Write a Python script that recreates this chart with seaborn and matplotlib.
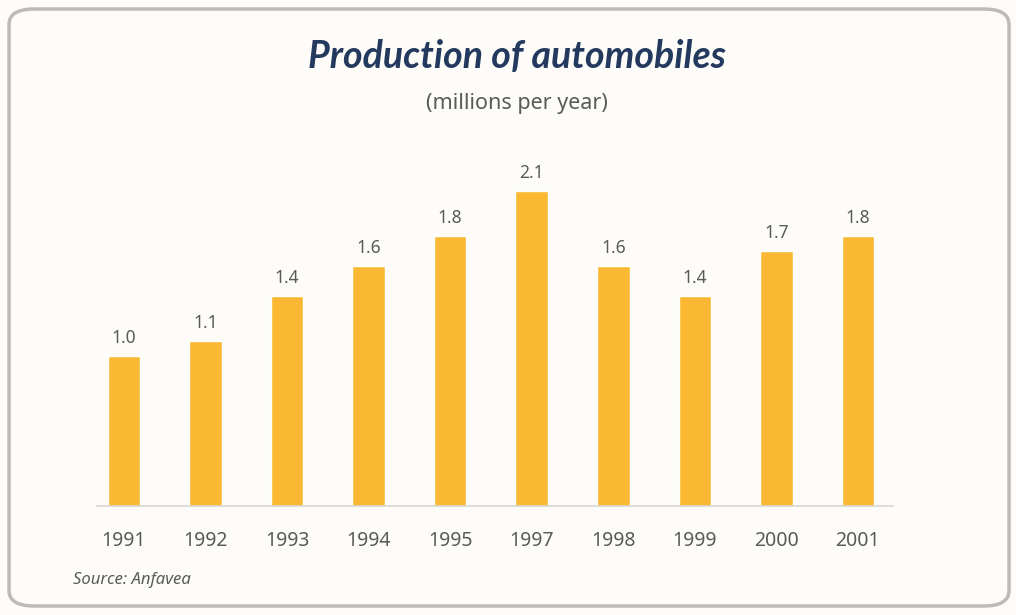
import matplotlib
matplotlib.use("Agg")
import matplotlib.pyplot as plt
import seaborn as sns
import pandas as pd
from matplotlib.patches import FancyBboxPatch

# data
years = ["1991", "1992", "1993", "1994", "1995", "1997", "1998", "1999", "2000", "2001"]
production = [1.0, 1.1, 1.4, 1.6, 1.8, 2.1, 1.6, 1.4, 1.7, 1.8]
value_labels = ["1.0", "1.1", "1.4", "1.6", "1.8", "2.1", "1.6", "1.4", "1.7", "1.8"]

df = pd.DataFrame({"year": years, "production": production})

sns.set_theme(style="white")
plt.rcParams['font.family'] = ['Noto Sans', 'DejaVu Sans']

BG = "#fdfcf8"
BAR = "#fbb833"
TEXT = "#5a5a5a"
TITLE = "#24395e"

fig = plt.figure(figsize=(10.16, 6.15), dpi=100, facecolor=BG)

# rounded frame, kept behind the axes
frame = FancyBboxPatch((9 / 1016, 9 / 615), 1000 / 1016, 597 / 615,
                       boxstyle="round,pad=0,rounding_size=0.025",
                       transform=fig.transFigure, facecolor=BG,
                       edgecolor="#bdbbb8", linewidth=2.5, zorder=-5)
fig.patches.append(frame)

ax = fig.add_axes([97 / 1016, (615 - 506) / 615, 796 / 1016, 330 / 615])
ax.set_facecolor("none")
ax.set_zorder(2)
sns.barplot(data=df, x="year", y="production", color=BAR, width=0.4,
            saturation=1, ax=ax, zorder=2)

ax.set_xlim(-0.33, 9.43)
ax.set_ylim(0, 2.2)
for i, (v, lab) in enumerate(zip(production, value_labels)):
    ax.text(i, v + 0.06, lab, ha="center", va="bottom", fontsize=12.5,
            color=TEXT, clip_on=False)

sns.despine(ax=ax, left=True, top=True, right=True)
ax.spines["bottom"].set_color("#d8d6d2")
ax.spines["bottom"].set_linewidth(1.2)
ax.set_yticks([])
ax.set_xlabel("")
ax.set_ylabel("")
ax.tick_params(axis="x", length=0, pad=18, labelsize=14, labelcolor=TEXT)

fig.text(517 / 1016, 1 - 56 / 615, "Production of automobiles", ha="center",
         va="center", fontsize=27, fontweight="bold", fontstyle="italic",
         color=TITLE, family=["Lato", "DejaVu Sans"])
fig.text(517 / 1016, 1 - 103 / 615, "(millions per year)", ha="center",
         va="center", fontsize=15.5, color=TEXT)
fig.text(73 / 1016, 1 - 580 / 615, "Source: Anfavea", ha="left",
         va="center", fontsize=12, fontstyle="italic", color=TEXT)

fig.savefig("out.png", dpi=100, facecolor=BG)
